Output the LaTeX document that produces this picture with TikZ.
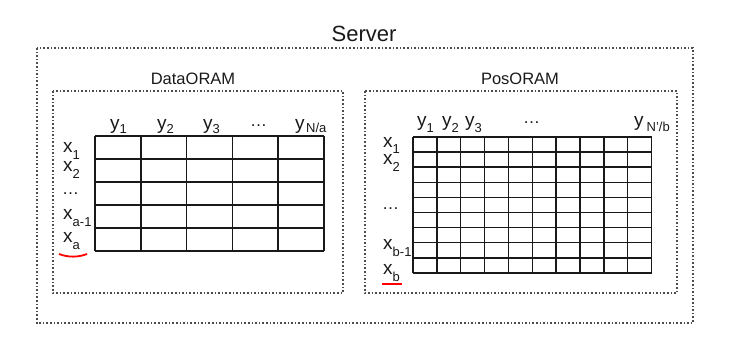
\documentclass[tikz,border=0pt]{standalone}
\usepackage{fontspec}
\setmainfont{Liberation Sans}
\newcommand{\subs}[2][7pt]{\raisebox{-#1}{\fontsize{13}{13}\selectfont #2}}
\begin{document}
\begin{tikzpicture}[x=1pt,y=-1pt,
  dotbox/.style={draw=black!70, line width=1.4pt, dash pattern=on 1.6pt off 2pt},
  lbl/.style={inner sep=0pt, anchor=base west, font=\fontsize{19}{19}\selectfont, text=black!90},
  dots/.style={inner sep=0pt, anchor=base west, font=\fontsize{17}{17}\selectfont, text=black!90},
  title/.style={inner sep=0pt, anchor=base, font=\fontsize{16.5}{16.5}\selectfont, text=black!90},
  gridline/.style={line width=1.5pt, black!90},
  redline/.style={draw=red, line width=1.8pt}]
\useasboundingbox (0,0) rectangle (737,347);

% boxes
\draw[dotbox] (37,48) rectangle (693,323);
\draw[dotbox] (53,91) rectangle (343,293);
\draw[dotbox] (365,91) rectangle (677,293);

\node[inner sep=0pt, anchor=base, font=\fontsize{22}{22}\selectfont, text=black!90] (server) at (364,42) {Server};
\node[title] (dataoram) at (193,85) {DataORAM};
\node[title] (posoram) at (520,85) {PosORAM};

% DataORAM grid
\foreach \i in {0,...,5} \draw[gridline] ({95+\i*45.8},136) -- ({95+\i*45.8},251);
\foreach \j in {0,...,5} \draw[gridline] (95,{136+\j*23}) -- (324,{136+\j*23});

\node[lbl] (dy1) at (110,130) {y\subs[3.5pt]{1}};
\node[lbl] (dy2) at (157,130) {y\subs[3.5pt]{2}};
\node[lbl] (dy3) at (203,130) {y\subs[3.5pt]{3}};
\node[dots] (dyd) at (250,126.5) {…};
\node[lbl] (dyn) at (295,130) {y\hspace{1.5pt}\subs[3pt]{N/a}};

\node[lbl] (dx1) at (63,153) {x\subs{1}};
\node[lbl] (dx2) at (63,172) {x\subs{2}};
\node[dots] (dxd) at (62,195) {…};
\node[lbl] (dxa1) at (63,220) {x\subs{a-1}};
\node[lbl] (dxa) at (63,243) {x\subs{a}};
\draw[redline] (59,254) .. controls (68,257.5) and (78,257.5) .. (87,254);

% PosORAM grid
\foreach \i in {0,...,10} \draw[gridline] ({413+\i*23.85},137) -- ({413+\i*23.85},273);
\foreach \j in {0,...,9} \draw[gridline] (413,{137+\j*15.1}) -- (651.5,{137+\j*15.1});

\node[lbl] (py1) at (417,126.7) {y\subs[6pt]{1}};
\node[lbl] (py2) at (442,126.7) {y\subs[6pt]{2}};
\node[lbl] (py3) at (465,126.7) {y\subs[6pt]{3}};
\node[dots] (pyd) at (523,123.5) {…};
\node[lbl] (pyn) at (634,126.7) {y\hspace{3pt}\subs[5pt]{N'/b}};

\node[lbl] (px1) at (383,148) {x\subs[6pt]{1}};
\node[lbl] (px2) at (383,165) {x\subs{2}};
\node[dots] (pxd) at (382,210) {…};
\node[lbl] (pxb1) at (383,250) {x\subs{b-1}};
\node[lbl] (pxb) at (383,275) {x\subs{b}};
\draw[redline] (382,284) -- (402,284);
\end{tikzpicture}
\end{document}
